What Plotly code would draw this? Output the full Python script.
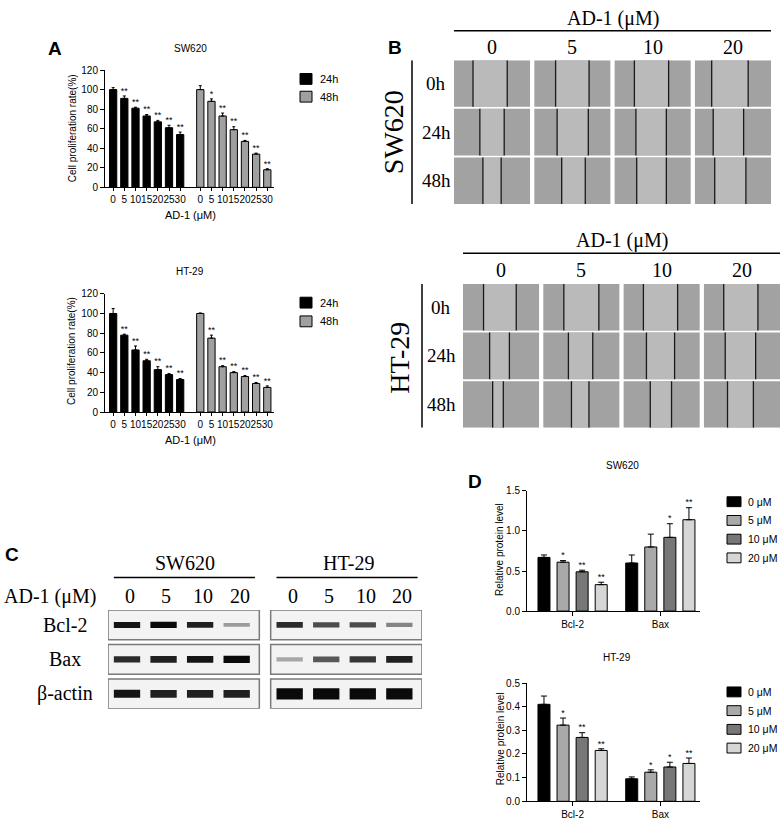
import plotly.graph_objects as go

W, H = 782, 827
SANS = "Liberation Sans, Arial, sans-serif"
SERIF = "Liberation Serif, Times New Roman, serif"

# ---- panel A : proliferation (CCK-8) ----
doses_a = [0, 5, 10, 15, 20, 25, 30]
time_labels = ["24h", "48h"]
sw620_24h = [100, 91, 81, 73, 67, 61, 54]
sw620_24h_err = [2, 2.5, 1, 1.5, 1.5, 2.5, 2.5]
sw620_24h_sig = ["", "**", "**", "**", "**", "**", "**"]
sw620_48h = [100, 88, 73, 59, 47, 34, 18]
sw620_48h_err = [4, 2.5, 3, 3, 1, 1, 1]
sw620_48h_sig = ["", "*", "**", "**", "**", "**", "**"]

ht29_24h = [100, 78, 63, 52, 43, 38, 33]
ht29_24h_err = [5, 1, 4, 1.5, 3, 1, 1]
ht29_24h_sig = ["", "**", "**", "**", "**", "**", "**"]
ht29_48h = [100, 75, 46, 40, 36, 29, 25]
ht29_48h_err = [0.5, 3, 1, 1, 1, 1, 1.5]
ht29_48h_sig = ["", "**", "**", "**", "**", "**", "**"]
time_colors = ["#000000", "#a0a0a0"]

# ---- panel B : wound healing, scratch edges as fraction of image width ----
wound_doses = ["0", "5", "10", "20"]
wound_times = ["0h", "24h", "48h"]
sw620_left = [[0.25, 0.28, 0.26, 0.22], [0.34, 0.30, 0.28, 0.24], [0.38, 0.36, 0.29, 0.26]]
sw620_right = [[0.70, 0.72, 0.71, 0.70], [0.66, 0.71, 0.68, 0.64], [0.62, 0.67, 0.68, 0.67]]
ht29_left = [[0.27, 0.27, 0.26, 0.26], [0.35, 0.33, 0.30, 0.28], [0.39, 0.37, 0.35, 0.31]]
ht29_right = [[0.70, 0.73, 0.71, 0.71], [0.61, 0.65, 0.67, 0.68], [0.53, 0.60, 0.63, 0.65]]

# ---- panel C : western blot band intensity (0 = none, 1 = saturated) ----
blot_doses = ["0", "5", "10", "20"]
blot_proteins = ["Bcl-2", "Bax", "β-actin"]
sw620_band = [[0.95, 1.0, 0.9, 0.35], [0.85, 0.9, 0.95, 1.0], [0.95, 0.9, 0.9, 0.9]]
ht29_band = [[0.85, 0.7, 0.7, 0.45], [0.3, 0.65, 0.8, 0.9], [1.0, 1.0, 1.0, 1.0]]

# ---- panel D : relative protein level, one row per concentration [Bcl-2, Bax] ----
proteins = ["Bcl-2", "Bax"]
conc_labels = ["0 μM", "5 μM", "10 μM", "20 μM"]
sw620_level = [[0.67, 0.60], [0.61, 0.80], [0.49, 0.92], [0.33, 1.14]]
sw620_level_err = [[0.03, 0.10], [0.02, 0.16], [0.02, 0.17], [0.03, 0.15]]
sw620_level_sig = [["", ""], ["*", ""], ["**", "*"], ["**", "**"]]
ht29_level = [[0.41, 0.095], [0.322, 0.123], [0.27, 0.145], [0.215, 0.16]]
ht29_level_err = [[0.035, 0.008], [0.03, 0.01], [0.02, 0.02], [0.007, 0.023]]
ht29_level_sig = [["", ""], ["*", "*"], ["**", "*"], ["**", "**"]]
conc_colors = ["#000000", "#a9a9a9", "#777777", "#d6d6d6"]


def fx(p):
    return p / W


def fy(p):
    return 1 - p / H


fig = go.Figure()
shapes = []
notes = []


def note(text, x, y, size, font=SANS, bold=False, xref="paper", yref="paper", angle=0, anchor="center"):
    if bold:
        text = "<b>" + text + "</b>"
    notes.append(dict(text=text, x=x, y=y, xref=xref, yref=yref, showarrow=False,
                      xanchor=anchor, yanchor="middle", textangle=angle,
                      font=dict(family=font, size=size, color="black")))


def bars(x, y, err, sig, color, xa, ya, width, cap):
    fig.add_trace(go.Bar(
        x=x, y=y, width=width, showlegend=False, xaxis=xa, yaxis=ya,
        marker=dict(color=color, line=dict(color="black", width=1)),
        error_y=dict(type="data", symmetric=False, array=err, arrayminus=[0] * len(err),
                     color="black", thickness=1, width=cap)))
    fig.add_trace(go.Scatter(
        x=x, y=[v + e for v, e in zip(y, err)], text=sig, mode="text",
        textposition="top center", textfont=dict(family=SANS, size=9, color="black"),
        showlegend=False, hoverinfo="skip", xaxis=xa, yaxis=ya))


def legend_box(labels, colors, sq_x, y0, pitch, sq_w, sq_h, text_x, size):
    for i, (lab, col) in enumerate(zip(labels, colors)):
        yc = y0 + i * pitch
        shapes.append(dict(type="rect", xref="paper", yref="paper",
                           x0=fx(sq_x), x1=fx(sq_x + sq_w), y0=fy(yc - sq_h / 2), y1=fy(yc + sq_h / 2),
                           fillcolor=col, line=dict(color="black", width=1)))
        note(lab, fx(text_x), fy(yc), size, anchor="left")


def axis(domain, **kw):
    d = dict(domain=domain, showline=True, linecolor="black", linewidth=1, ticks="outside",
             ticklen=4, tickwidth=1, tickcolor="black", showgrid=False, zeroline=False,
             tickfont=dict(family=SANS, size=10, color="black"), fixedrange=True)
    d.update(kw)
    return d


# ---------- panel A ----------
gap_a = 7.8
xa24 = list(range(len(doses_a)))
xa48 = [gap_a + i for i in xa24]
a_ticks = xa24 + xa48
a_text = [str(d) for d in doses_a] * 2

bars(xa24, sw620_24h, sw620_24h_err, sw620_24h_sig, time_colors[0], "x", "y", 0.65, 1.5)
bars(xa48, sw620_48h, sw620_48h_err, sw620_48h_sig, time_colors[1], "x", "y", 0.65, 1.5)
bars(xa24, ht29_24h, ht29_24h_err, ht29_24h_sig, time_colors[0], "x2", "y2", 0.65, 1.5)
bars(xa48, ht29_48h, ht29_48h_err, ht29_48h_sig, time_colors[1], "x2", "y2", 0.65, 1.5)

xr_a = [-0.73, 14.4]
fig.update_layout(
    xaxis=axis([fx(105), fx(274)], range=xr_a, tickvals=a_ticks, ticktext=a_text, anchor="y",
               ticklen=3, tickangle=0),
    yaxis=axis([fy(184), fy(65)], range=[0, 120], dtick=20, anchor="x"),
    xaxis2=axis([fx(105), fx(274)], range=xr_a, tickvals=a_ticks, ticktext=a_text, anchor="y2",
                ticklen=3, tickangle=0),
    yaxis2=axis([fy(412), fy(292)], range=[0, 120], dtick=20, anchor="x2"),
)
note("A", fx(55), fy(43), 19, bold=True)
note("SW620", fx(190), fy(43), 10)
note("Cell proliferation rate(%)", fx(72), fy(124), 10, angle=-90)
note("AD-1 (μM)", fx(190), fy(212), 11)
note("HT-29", fx(190), fy(269), 10)
note("Cell proliferation rate(%)", fx(72), fy(350), 10, angle=-90)
note("AD-1 (μM)", fx(190), fy(440), 11)
legend_box(time_labels, time_colors, 300, 74, 18, 12, 11, 318, 11)
legend_box(time_labels, time_colors, 300, 301, 19, 12, 11, 318, 11)

# ---------- panel B ----------
TILE_W, TILE_H = 0.947, 0.96
CELL, GAP = "#a2a2a2", "#bababa"


def wound(left, right, xa, ya):
    for r in range(len(wound_times)):
        for c in range(len(wound_doses)):
            x0, y0 = c, r
            shapes.append(dict(type="rect", xref=xa, yref=ya, x0=x0, x1=x0 + TILE_W, y0=y0, y1=y0 + TILE_H,
                               fillcolor=CELL, line=dict(width=0), layer="below"))
            xl = x0 + left[r][c] * TILE_W
            xr = x0 + right[r][c] * TILE_W
            shapes.append(dict(type="rect", xref=xa, yref=ya, x0=xl, x1=xr, y0=y0, y1=y0 + TILE_H,
                               fillcolor=GAP, line=dict(width=0), layer="below"))
            for xe in (xl, xr):
                shapes.append(dict(type="line", xref=xa, yref=ya, x0=xe, x1=xe, y0=y0, y1=y0 + TILE_H,
                                   line=dict(color="#1a1a1a", width=1.3)))


wound(sw620_left, sw620_right, "x3", "y3")
wound(ht29_left, ht29_right, "x4", "y4")
hidden = dict(visible=False, fixedrange=True)
xr_b = [0, 3 + TILE_W]
yr_b = [2 + TILE_H, 0]
fig.update_layout(
    xaxis3=dict(domain=[fx(454), fx(771)], range=xr_b, anchor="y3", **hidden),
    yaxis3=dict(domain=[fy(201), fy(55)], range=yr_b, anchor="x3", **hidden),
    xaxis4=dict(domain=[fx(463), fx(780)], range=xr_b, anchor="y4", **hidden),
    yaxis4=dict(domain=[fy(428), fy(282)], range=yr_b, anchor="x4", **hidden),
)


def wound_labels(xa, ya, title_y, line_y, col_y, row_x, bar_x, cell_name, name_x, name_y):
    note("AD-1 (μM)", 0.5 * (3 + TILE_W), fy(title_y), 20, SERIF, xref=xa)
    shapes.append(dict(type="line", xref=xa, yref="paper", x0=0, x1=3 + TILE_W, y0=fy(line_y), y1=fy(line_y),
                       line=dict(color="black", width=1.5)))
    for c, d in enumerate(wound_doses):
        note(d, c + TILE_W / 2, fy(col_y), 20, SERIF, xref=xa)
    for r, t in enumerate(wound_times):
        note(t, fx(row_x), r + TILE_H / 2, 19, SERIF, yref=ya)
    shapes.append(dict(type="line", xref="paper", yref=ya, x0=fx(bar_x), x1=fx(bar_x), y0=0, y1=2 + TILE_H,
                       line=dict(color="black", width=1.5)))
    note(cell_name, fx(name_x), fy(name_y), 28, SERIF, angle=-90)


wound_labels("x3", "y3", 13, 25, 42, 436, 412, "SW620", 393, 128)
wound_labels("x4", "y4", 238, 251, 268, 441, 422, "HT-29", 400, 357)
note("B", fx(395), fy(42), 19, bold=True)

# ---------- panel C ----------
lanes_sw = [0, 1, 2, 3]
lanes_ht = [4.45 + i for i in lanes_sw]
BAND_HALF = 0.36
row_thick = [0.75, 0.85, 1.0]


def blot(lanes, band, actin_scale):
    x0, x1 = lanes[0] - 0.52, lanes[-1] + 0.62
    for p in range(len(blot_proteins)):
        shapes.append(dict(type="rect", xref="x5", yref="y5", x0=x0, x1=x1, y0=p - 0.43, y1=p + 0.43,
                           fillcolor="#f3f3f3", line=dict(color="#7a7a7a", width=1.5), layer="below"))
        for l, v in zip(lanes, band[p]):
            g = int(235 - 225 * v)
            half = (0.05 + 0.07 * v) * row_thick[p] * (actin_scale if p == 2 else 1)
            shapes.append(dict(type="rect", xref="x5", yref="y5", x0=l - BAND_HALF, x1=l + BAND_HALF,
                               y0=p - half, y1=p + half, fillcolor=f"rgb({g},{g},{g})", line=dict(width=0)))


blot(lanes_sw, sw620_band, 1.0)
blot(lanes_ht, ht29_band, 1.35)
fig.update_layout(
    xaxis5=dict(domain=[fx(108), fx(422)], range=[-0.52, 8.07], anchor="y5", **hidden),
    yaxis5=dict(domain=[fy(713), fy(613)], range=[2.43, -0.43], anchor="x5", **hidden),
)
for lanes, name in ((lanes_sw, "SW620"), (lanes_ht, "HT-29")):
    note(name, 0.5 * (lanes[0] + lanes[-1]) + 0.1, fy(565), 20, SERIF, xref="x5")
    shapes.append(dict(type="line", xref="x5", yref="paper", x0=lanes[0] - 0.36, x1=lanes[-1] + 0.5,
                       y0=fy(580), y1=fy(580), line=dict(color="black", width=1.5)))
    for l, d in zip(lanes, blot_doses):
        note(d, l + 0.08, fy(599), 20, SERIF, xref="x5")
note("AD-1 (μM)", fx(50), fy(599), 20, SERIF)
for p, name in enumerate(blot_proteins):
    note(name, fx(65), p, 20, SERIF, yref="y5")
note("C", fx(12), fy(557), 19, bold=True)

# ---------- panel D ----------
gap_d = 4.6
for i in range(len(conc_labels)):
    xd = [i, gap_d + i]
    bars(xd, sw620_level[i], sw620_level_err[i], sw620_level_sig[i], conc_colors[i], "x6", "y6", 0.63, 3)
    bars(xd, ht29_level[i], ht29_level_err[i], ht29_level_sig[i], conc_colors[i], "x7", "y7", 0.63, 3)

xr_d = [-0.89, 8.18]
d_ticks = [1.5, gap_d + 1.5]
fig.update_layout(
    xaxis6=axis([fx(527), fx(700)], range=xr_d, tickvals=d_ticks, ticktext=proteins, anchor="y6"),
    yaxis6=axis([fy(614), fy(492)], range=[0, 1.5], dtick=0.5, tickformat=".1f", anchor="x6"),
    xaxis7=axis([fx(527), fx(700)], range=xr_d, tickvals=d_ticks, ticktext=proteins, anchor="y7"),
    yaxis7=axis([fy(807), fy(687)], range=[0, 0.5], dtick=0.1, tickformat=".1f", anchor="x7"),
)
note("D", fx(475), fy(483), 19, bold=True)
note("SW620", fx(622), fy(466), 10)
note("Relative protein level", fx(500), fy(552), 10, angle=-90)
note("HT-29", fx(617), fy(661), 10)
note("Relative protein level", fx(500), fy(744), 10, angle=-90)
legend_box(conc_labels, conc_colors, 727, 503, 19, 14, 10, 746, 10.5)
legend_box(conc_labels, conc_colors, 727, 696, 19, 14, 10, 746, 10.5)

fig.update_layout(
    width=W, height=H, margin=dict(l=0, r=0, t=0, b=0),
    paper_bgcolor="white", plot_bgcolor="white", barmode="overlay", showlegend=False,
    shapes=shapes, annotations=notes,
    font=dict(family=SANS, color="black"),
)

# the page body has a default 8px margin; drop it so the figure fills the window
fig.write_html("out.html", config={"displayModeBar": False},
               post_script="document.body.style.margin='0';")
